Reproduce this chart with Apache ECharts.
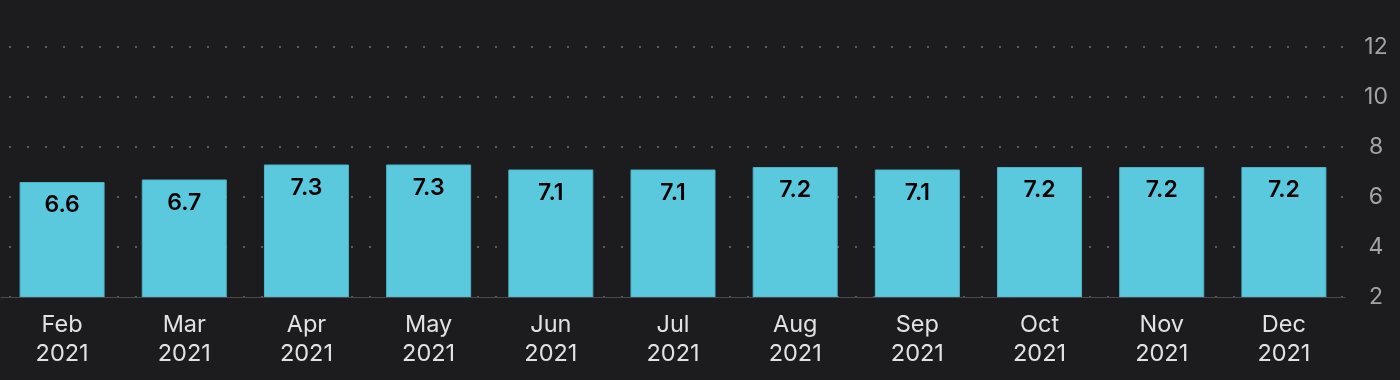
<!DOCTYPE html>
<html>
<head>
<meta charset="utf-8">
<script src="https://cdn.jsdelivr.net/npm/echarts@6/dist/echarts.min.js"></script>
<style>
html,body{margin:0;padding:0;background:#1c1c1e;}
#c{width:1400px;height:380px;}
</style>
</head>
<body>
<div id="c"></div>
<script>
const months = ['Feb','Mar','Apr','May','Jun','Jul','Aug','Sep','Oct','Nov','Dec'];
const years = ['2021','2021','2021','2021','2021','2021','2021','2021','2021','2021','2021'];
const values = [6.6, 6.7, 7.3, 7.3, 7.1, 7.1, 7.2, 7.1, 7.2, 7.2, 7.2];
const yTicks = [2, 4, 6, 8, 10, 12];

const categories = months.map((m, i) => m + '\n' + years[i]);
const chart = echarts.init(document.getElementById('c'));
chart.setOption({
  backgroundColor: '#1c1c1e',
  animation: false,
  grid: {left: 1, right: 55, top: 47, bottom: 83},
  xAxis: {
    type: 'category',
    data: categories,
    axisLine: {show: true, lineStyle: {color: '#4a4a4e', width: 1}},
    axisTick: {show: false},
    axisLabel: {
      color: '#e2e2e4', fontSize: 23.5, fontFamily: 'Inter', lineHeight: 29, margin: 13
    },
    z: 5
  },
  yAxis: {
    type: 'value',
    position: 'right',
    min: yTicks[0],
    max: yTicks[yTicks.length - 1],
    interval: 2,
    axisLine: {show: false},
    axisTick: {show: false},
    axisLabel: {color: '#a3a3a7', fontSize: 23, fontFamily: 'Inter', align: 'center', margin: 31},
    splitLine: {show: true, lineStyle: {color: '#5c5c60', width: 2, type: [2, 16], dashOffset: 10}}
  },
  series: [{
    type: 'bar',
    data: values,
    barWidth: 85,
    itemStyle: {color: '#5bc9dd', borderColor: '#4fb4c7', borderWidth: 1},
    label: {
      show: true,
      position: 'insideTop',
      distance: 12,
      color: '#000000',
      fontSize: 23,
      fontWeight: 600,
      fontFamily: 'Inter',
      formatter: p => p.value.toFixed(1)
    }
  }]
});
</script>
</body>
</html>
